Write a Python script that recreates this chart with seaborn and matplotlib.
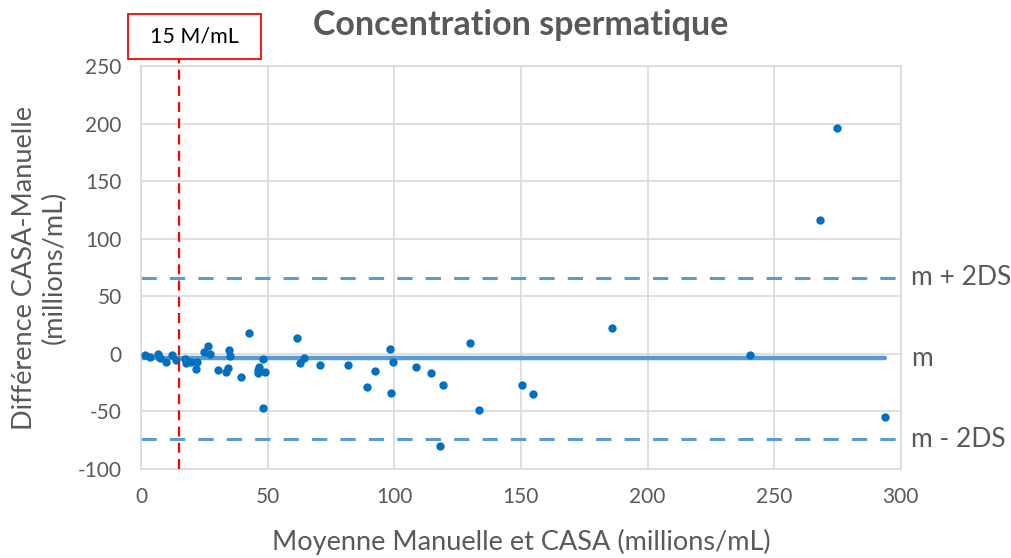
import numpy as np
import pandas as pd
import matplotlib
matplotlib.use('Agg')
import matplotlib.pyplot as plt
from matplotlib.patches import Rectangle
import seaborn as sns

# Bland-Altman : moyenne (x) et difference CASA - Manuelle (y), millions/mL
moyenne = [1.6, 3.5, 6.6, 7.5, 10.0, 12.4, 13.7, 17.4, 17.7, 19.7, 22.0, 21.7,
           24.9, 26.5, 27.4, 30.2, 33.4, 34.2, 34.7, 35.1, 39.5, 42.6, 48.3,
           46.3, 46.7, 46.0, 49.0, 48.3, 61.4, 64.4, 62.8, 70.7, 81.6, 89.3,
           92.5, 98.4, 98.7, 99.6, 108.5, 114.5, 119.2, 118.0, 130.0, 133.6,
           150.4, 154.6, 185.8, 240.5, 293.8, 275.0, 268.2]
difference = [-1.0, -2.4, 0.0, -4.0, -7.0, -1.0, -5.0, -4.7, -7.6, -6.8, -6.8,
              -13.4, 2.0, 7.0, 0.0, -14.0, -15.4, -12.0, 3.4, -1.5, -19.8, 18.4,
              -4.7, -14.0, -11.0, -17.0, -16.0, -47.0, 13.5, -3.9, -8.2, -9.6,
              -9.6, -28.5, -14.6, 4.3, -34.2, -7.3, -11.1, -16.9, -26.7, -79.7,
              9.5, -48.5, -26.7, -34.8, 22.5, -0.7, -55.0, 196.0, 116.0]

m = -4.0
m_plus_2ds = 66.0
m_moins_2ds = -74.0
seuil = 15

df = pd.DataFrame({'moyenne': moyenne, 'difference': difference})

sns.set_style('white')
plt.rcParams['font.family'] = ['Lato', 'DejaVu Sans']
plt.rcParams['axes.unicode_minus'] = False
gris = '#595959'
bleu_clair = '#5B9BD5'
fs = 15

fig = plt.figure(figsize=(10.11, 5.58), dpi=100)
ax = fig.add_subplot(111)
fig.subplots_adjust(left=0.1395, right=0.891, top=0.8817, bottom=0.1595)

# lignes m +/- 2DS
for val in [m_plus_2ds, m_moins_2ds]:
    ax.axhline(val, color=bleu_clair, lw=2.2, dashes=(5, 4.3), zorder=2)
# moyenne
ax.plot([0, max(moyenne)], [m, m], color=bleu_clair, lw=3.2, zorder=2)

sns.scatterplot(data=df, x='moyenne', y='difference', ax=ax, color='#0070C0',
                s=36, linewidth=0, zorder=3)

# seuil 15 M/mL
ax.axvline(seuil, ymin=0, ymax=1.017, color='#FF0000', lw=1.6, dashes=(4.5, 2.8),
           clip_on=False, zorder=4)
fig.patches.append(Rectangle((0.1266, 0.8943), 0.1316, 0.0806, transform=fig.transFigure,
                             fill=True, facecolor='white', edgecolor='#FF0000', lw=1.3))
fig.text(0.1924, 0.9346, '15 M/mL', ha='center', va='center', fontsize=15.5, color='black')

ax.set_xlim(0, 300)
ax.set_ylim(-100, 250)
ax.set_xticks(np.arange(0, 301, 50))
ax.set_yticks(np.arange(-100, 251, 50))
ax.grid(True, color='#D9D9D9', lw=1.2)
ax.set_axisbelow(True)
for s in ax.spines.values():
    s.set_color('#D9D9D9')
    s.set_linewidth(1.2)
ax.tick_params(axis='y', length=0, labelsize=fs, labelcolor=gris, pad=14)
ax.tick_params(axis='x', length=0, labelsize=fs, labelcolor=gris, pad=13)

ax.set_xlabel('Moyenne Manuelle et CASA (millions/mL)', fontsize=19.5, color=gris, labelpad=16)
ax.set_ylabel('Différence CASA-Manuelle\n(millions/mL)', fontsize=19.5, color=gris, labelpad=8)
ax.set_title('Concentration spermatique', fontsize=24.5, fontweight='bold', color=gris, pad=22)

ax.text(1.014, m_plus_2ds, 'm + 2DS', transform=ax.get_yaxis_transform(), fontsize=19,
        color=gris, va='center')
ax.text(1.014, m, 'm', transform=ax.get_yaxis_transform(), fontsize=19,
        color=gris, va='center')
ax.text(1.014, m_moins_2ds, 'm - 2DS', transform=ax.get_yaxis_transform(), fontsize=19,
        color=gris, va='center')

fig.savefig('out.png', dpi=100)
